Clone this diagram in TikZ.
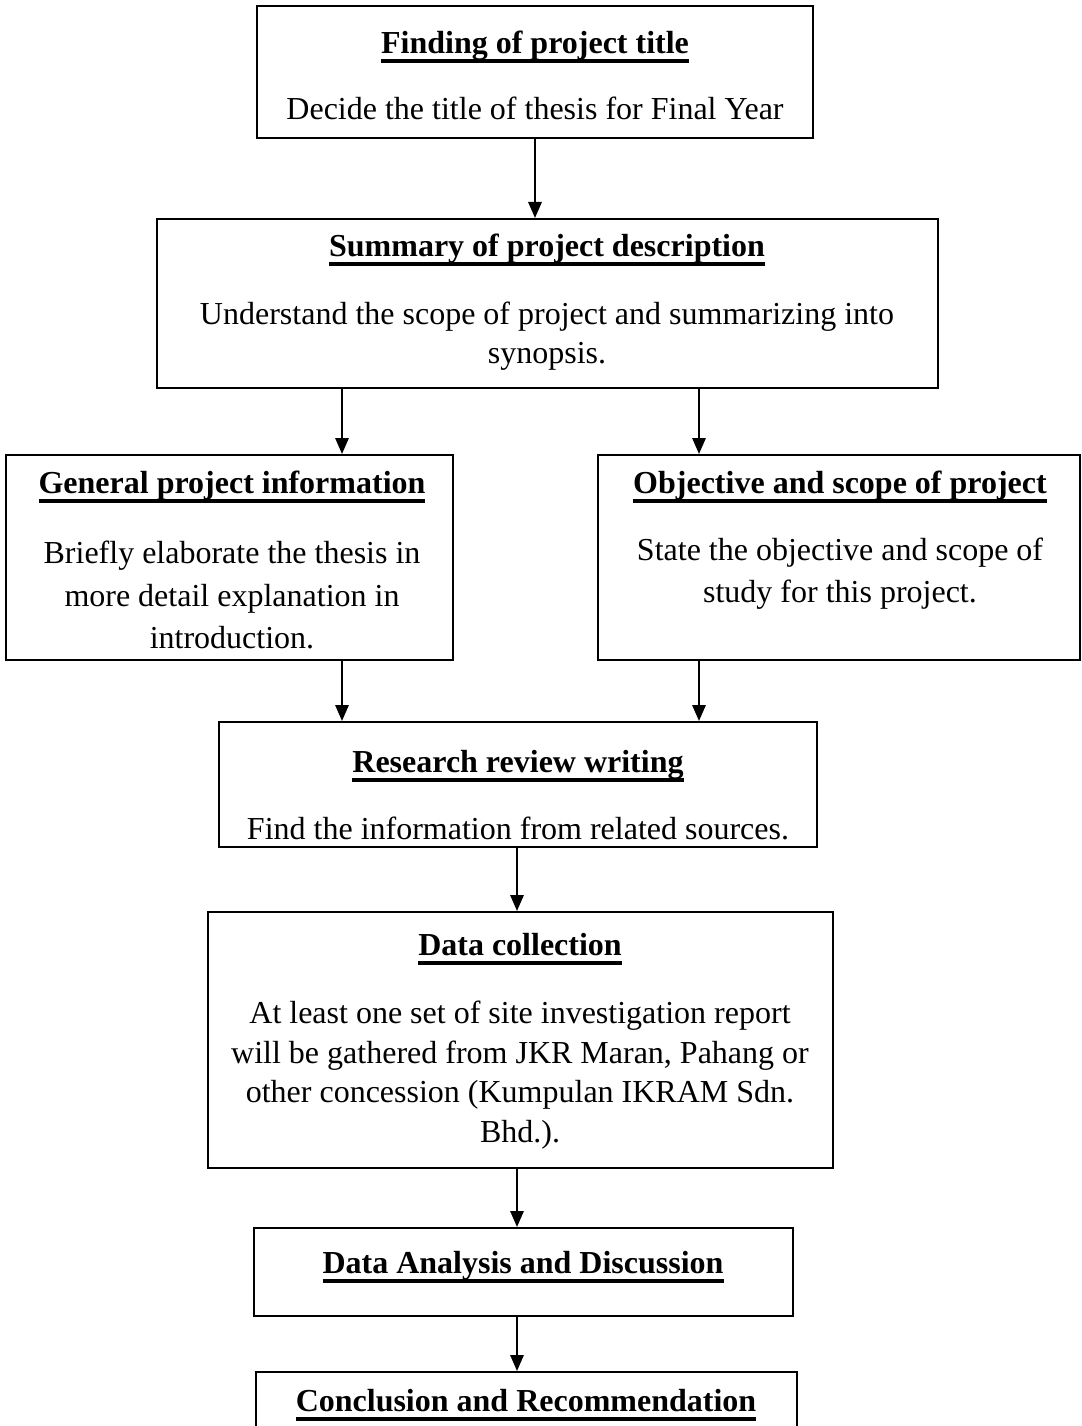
\documentclass[tikz,border=0pt]{standalone}
\usepackage{fontspec}
\setmainfont{Liberation Serif}
\usepackage{tikz}
\usetikzlibrary{arrows.meta}
\newcommand{\titleul}[1]{\setbox0\hbox{\bfseries #1}\rlap{\vrule width\wd0 height -2pt depth 3.3pt}\box0}

\begin{document}
\begin{tikzpicture}[line join=miter,>={Triangle[length=6pt,width=5pt]},x=0.375pt,y=-0.375pt,
  box/.style 2 args={draw,line width=0.75pt,inner sep=0pt,minimum width=#1*0.375pt,minimum height=#2*0.375pt},
  head/.style={font=\fontsize{12}{14.8}\selectfont,inner sep=0pt},
  body/.style={font=\fontsize{12}{14.8}\selectfont,align=center,inner sep=0pt},
  flow/.style={->,line width=0.75pt}]
\useasboundingbox (0,0) rectangle (1082,1426);
%boxes
\node[box={556}{132}] (b1) at (535,72) {};
\node[box={781}{169}] (b2) at (547.5,303.5) {};
\node[box={447}{205}] (b3) at (229.5,557.5) {};
\node[box={482}{205}] (b4) at (839,557.5) {};
\node[box={598}{125}] (b5) at (518,784.5) {};
\node[box={625}{256}] (b6) at (520.5,1040) {};
\node[box={539}{88}] (b7) at (523.5,1272) {};
\node[box={541}{100}] (b8) at (526.5,1422) {};
%texts
\node[head] (h1) at (535,47) {\titleul{Finding of project title}};
\node[body] (t1) at (535,108) {Decide the title of thesis for Final Year};
\node[head] (h2) at (547,250) {\titleul{Summary of project description}};
\node[body] (t2) at (547,336) {Understand the scope of project and summarizing into\\synopsis.};
\node[head] (h3) at (232,487) {\titleul{General project information}};
\node[body] (t3) at (232,595) {Briefly elaborate the thesis in\\[1pt]more detail explanation in\\[1pt]introduction.};
\node[head] (h4) at (840,487) {\titleul{Objective and scope of project}};
\node[body] (t4) at (840,574) {State the objective and scope of\\[1pt]study for this project.};
\node[head] (h5) at (518,766) {\titleul{Research review writing}};
\node[body] (t5) at (518,828) {Find the information from related sources.};
\node[head] (h6) at (520,949) {\titleul{Data collection}};
\node[body] (t6) at (520,1075) {At least one set of site investigation report\\will be gathered from JKR Maran, Pahang or\\other concession (Kumpulan IKRAM Sdn.\\Bhd.).};
\node[head] (h7) at (523,1267) {\titleul{Data Analysis and Discussion}};
\node[head] (h8) at (526,1405) {\titleul{Conclusion and Recommendation}};
%arrows
\coordinate (left) at (342,0);
\coordinate (right) at (699,0);
\coordinate (mid) at (517,0);
\draw[flow] (b1.south) -- (b2.north -| b1.south);
\draw[flow] (b2.south -| left) -- (b3.north -| left);
\draw[flow] (b2.south -| right) -- (b4.north -| right);
\draw[flow] (b3.south -| left) -- (b5.north -| left);
\draw[flow] (b4.south -| right) -- (b5.north -| right);
\draw[flow] (b5.south -| mid) -- (b6.north -| mid);
\draw[flow] (b6.south -| mid) -- (b7.north -| mid);
\draw[flow] (b7.south -| mid) -- (b8.north -| mid);
\end{tikzpicture}
\end{document}
